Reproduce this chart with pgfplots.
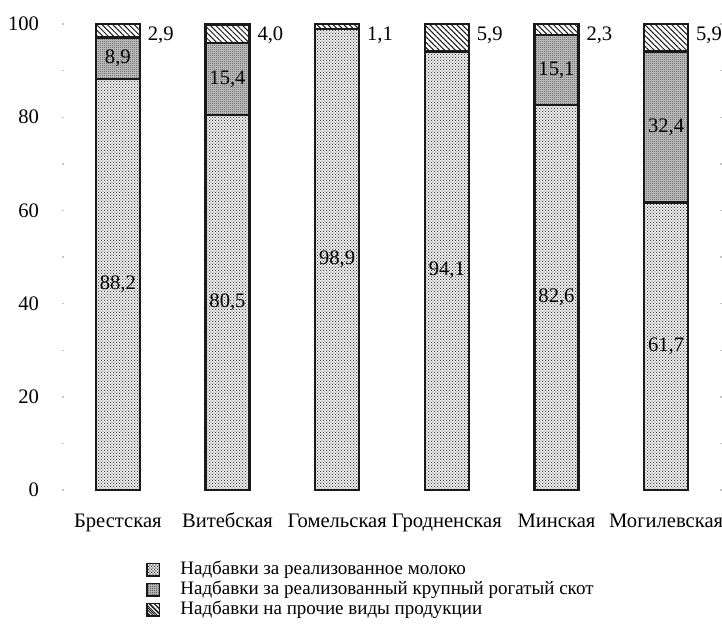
\documentclass[border=0pt]{standalone}
\usepackage{fontspec}
\setmainfont{Liberation Serif}
\usepackage{pgfplots}
\usepackage{pgfplotstable}
\pgfplotsset{compat=1.18}
\usetikzlibrary{patterns,patterns.meta}

\tikzdeclarepattern{
  name=fdots, type=uncolored,
  bounding box={(0,0) and (1.4pt,1.4pt)},
  tile size={(1.4pt,1.4pt)},
  code={\fill (0.35pt,0.35pt) circle (0.33pt); \fill (1.05pt,1.05pt) circle (0.33pt);}
}
\tikzdeclarepattern{
  name=cdots, type=uncolored,
  bounding box={(0,0) and (1pt,1pt)},
  tile size={(1pt,1pt)},
  code={\fill (0.5pt,0.5pt) circle (0.28pt);}
}

\pgfplotstableread{
x milk cattle other
0 88.2 8.9 2.9
1 80.5 15.4 4.0
2 98.9 0 1.1
3 94.1 0 5.9
4 82.6 15.1 2.3
5 61.7 32.4 5.9
}\data

\pgfplotstableread{
x y label
0 44.1 88,2
0 92.65 8,9
1 40.25 80,5
1 88.2 15,4
2 49.45 98,9
3 47.05 94,1
4 41.3 82,6
4 90.15 15,1
5 30.85 61,7
5 77.9 32,4
}\inlabels

\pgfplotstableread{
x y label
0.27 97.6 2,9
1.27 97.6 4,0
2.27 97.6 1,1
3.27 97.6 5,9
4.27 97.6 2,3
5.27 97.6 5,9
}\toplabels

\begin{document}
\begin{tikzpicture}
\begin{axis}[
  scale only axis,
  width=329pt, height=233pt,
  xmin=-0.5, xmax=5.5, ymin=0, ymax=100,
  ybar stacked, bar width=0.4,
  axis line style={draw=none},
  xtick={0,1,2,3,4,5},
  xticklabels={Брестская,Витебская,Гомельская,Гродненская,Минская,Могилевская},
  x tick style={draw=none},
  ytick={0,20,40,60,80,100},
  minor ytick={10,30,50,70,90},
  y tick style={gray!45, line width=0.7pt},
  major tick length=1pt, minor tick length=1pt,
  tick align=center,
  /pgf/number format/assume math mode=true,
  yticklabel style={xshift=-8pt},
  xticklabel style={yshift=-7.5pt, text height=7pt, text depth=2pt},
  tick label style={font=\fontsize{10.3}{12}\selectfont},
  legend style={at={(0.117,-0.135)}, anchor=north west, draw=none,
    font=\fontsize{9.5}{11}\selectfont, row sep=-2.3pt,
    /tikz/every odd column/.append style={column sep=8pt}},
  legend cell align=left,
]
\addplot[draw=black!90, line width=1.2pt, fill=white,
  postaction={pattern=fdots, pattern color=black!85},
  legend image code/.code={\draw[draw=black!90, line width=0.6pt, fill=white, postaction={pattern=fdots, pattern color=black!85}] (0pt,-3.2pt) rectangle (6.4pt,3.2pt);}]
  table[x=x, y=milk] {\data};
\addlegendentry{Надбавки за реализованное молоко}
\addplot[draw=black!90, line width=1.2pt, fill=gray!55,
  postaction={pattern=cdots, pattern color=black!85},
  legend image code/.code={\draw[draw=black!90, line width=0.6pt, fill=gray!55, postaction={pattern=cdots, pattern color=black!85}] (0pt,-3.2pt) rectangle (6.4pt,3.2pt);}]
  table[x=x, y=cattle] {\data};
\addlegendentry{Надбавки за реализованный крупный рогатый скот}
\addplot[draw=black!90, line width=1.2pt, fill=white,
  postaction={pattern={Lines[angle=-45, distance=1.9pt, line width=0.5pt]}, pattern color=black!90},
  legend image code/.code={\draw[draw=black!90, line width=0.6pt, fill=white, postaction={pattern={Lines[angle=-45, distance=1.5pt, line width=0.45pt]}, pattern color=black!90}] (0pt,-3.2pt) rectangle (6.4pt,3.2pt);}]
  table[x=x, y=other] {\data};
\addlegendentry{Надбавки на прочие виды продукции}
\end{axis}
\begin{axis}[
  scale only axis,
  width=329pt, height=233pt,
  xmin=-0.5, xmax=5.5, ymin=0, ymax=100,
  hide axis, clip=false,
]
\addplot[only marks, mark=none, nodes near coords, point meta=explicit symbolic,
  every node near coord/.style={anchor=center, inner sep=0pt, font=\fontsize{10.3}{12}\selectfont, text=black}]
  table[x=x, y=y, meta=label] {\inlabels};
\addplot[only marks, mark=none, nodes near coords, point meta=explicit symbolic,
  every node near coord/.style={anchor=west, inner sep=0pt, font=\fontsize{10.3}{12}\selectfont}]
  table[x=x, y=y, meta=label] {\toplabels};
\end{axis}
\pgfresetboundingbox
\path (-31.5pt,-71pt) rectangle (329.5pt,245pt);
\end{tikzpicture}
\end{document}
